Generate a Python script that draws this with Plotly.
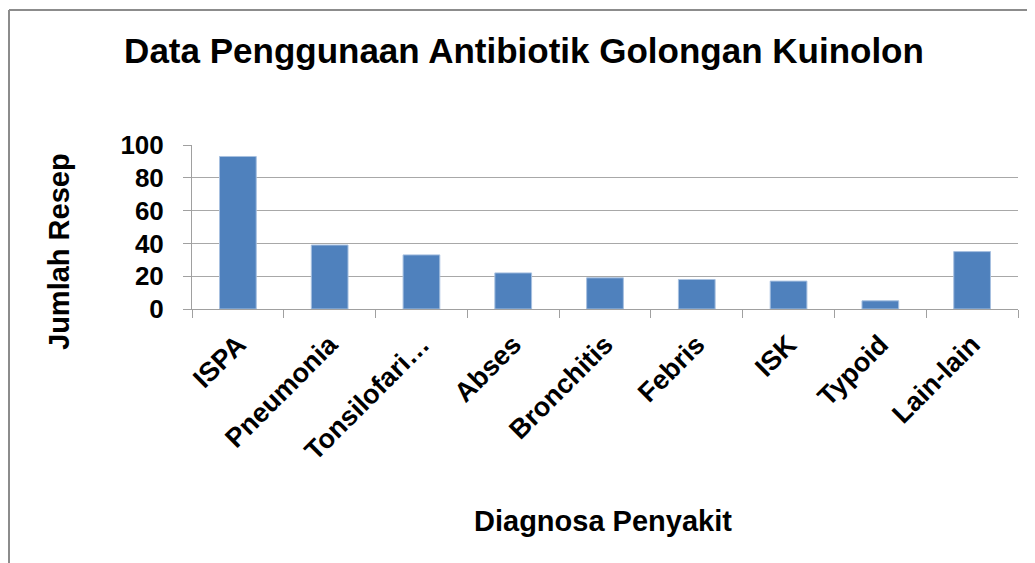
import plotly.graph_objects as go

categories = ["ISPA", "Pneumonia", "Tonsilofaringitis", "Abses", "Bronchitis",
              "Febris", "ISK", "Typoid", "Lain-lain"]
tick_labels = ["ISPA", "Pneumonia", "Tonsilofari…", "Abses", "Bronchitis",
               "Febris", "ISK", "Typoid", "Lain-lain"]
jumlah_resep = [93, 39, 33, 22, 19, 18, 17, 5, 35]
y_ticks = [0, 20, 40, 60, 80, 100]

FONT = "Liberation Sans, Arial, sans-serif"
OFF = 8  # page offset of the plot div
W, H = 1035, 563
L, T = 192 - OFF, 145 - OFF
R = W - (1018 - OFF)
B = H - (309 - OFF)
pw, ph = W - L - R, H - T - B


def px_x(x):
    return (x - OFF - L) / pw


def px_y(y):
    return 1 - (y - OFF - T) / ph


fig = go.Figure()
fig.add_trace(go.Bar(
    x=categories,
    y=jumlah_resep,
    marker=dict(color="#4F81BD", line=dict(color="#A7C0E0", width=1)),
    width=0.4,
))

fig.update_layout(
    width=W, height=H,
    margin=dict(l=L, r=R, t=T, b=B),
    paper_bgcolor="white",
    plot_bgcolor="white",
    showlegend=False,
    font=dict(family=FONT, color="black"),
    title=dict(
        text="<b>Data Penggunaan Antibiotik Golongan Kuinolon</b>",
        font=dict(size=35, family=FONT, color="black"),
        x=px_x(524), xref="paper", xanchor="center",
        y=1 - (51 - OFF) / H, yref="container", yanchor="middle",
    ),
    xaxis=dict(
        tickmode="array", tickvals=categories, ticktext=tick_labels,
        tickangle=-45, tickson="boundaries",
        ticks="outside", ticklen=8, tickcolor="#A0A0A0",
        showline=True, linecolor="#A0A0A0", linewidth=1,
        showgrid=False,
        tickfont=dict(size=27, family=FONT, color="black", weight="bold"),
        ticklabelstandoff=8,
    ),
    yaxis=dict(
        range=[0, 100], tickvals=y_ticks,
        ticks="outside", ticklen=8, tickcolor="#A0A0A0",
        showline=True, linecolor="#A0A0A0", linewidth=1,
        showgrid=True, gridcolor="#A8A8A8", gridwidth=1,
        zeroline=False,
        tickfont=dict(size=26, family=FONT, color="black", weight="bold"),
        ticklabelstandoff=14,
    ),
    annotations=[
        dict(text="<b>Jumlah Resep</b>", xref="paper", yref="paper",
             x=px_x(59), y=px_y(252), textangle=-90, showarrow=False,
             xanchor="center", yanchor="middle",
             font=dict(size=29, family=FONT, color="black")),
        dict(text="<b>Diagnosa Penyakit</b>", xref="paper", yref="paper",
             x=px_x(603), y=px_y(521), showarrow=False,
             xanchor="center", yanchor="middle",
             font=dict(size=29, family=FONT, color="black")),
    ],
    shapes=[
        dict(type="line", xref="paper", yref="paper",
             x0=px_x(9), x1=px_x(9), y0=px_y(10), y1=px_y(600),
             line=dict(color="#8C8C8C", width=2)),
        dict(type="line", xref="paper", yref="paper",
             x0=px_x(9), x1=px_x(1100), y0=px_y(10), y1=px_y(10),
             line=dict(color="#8C8C8C", width=2)),
    ],
)

fig.write_html("out.html")
